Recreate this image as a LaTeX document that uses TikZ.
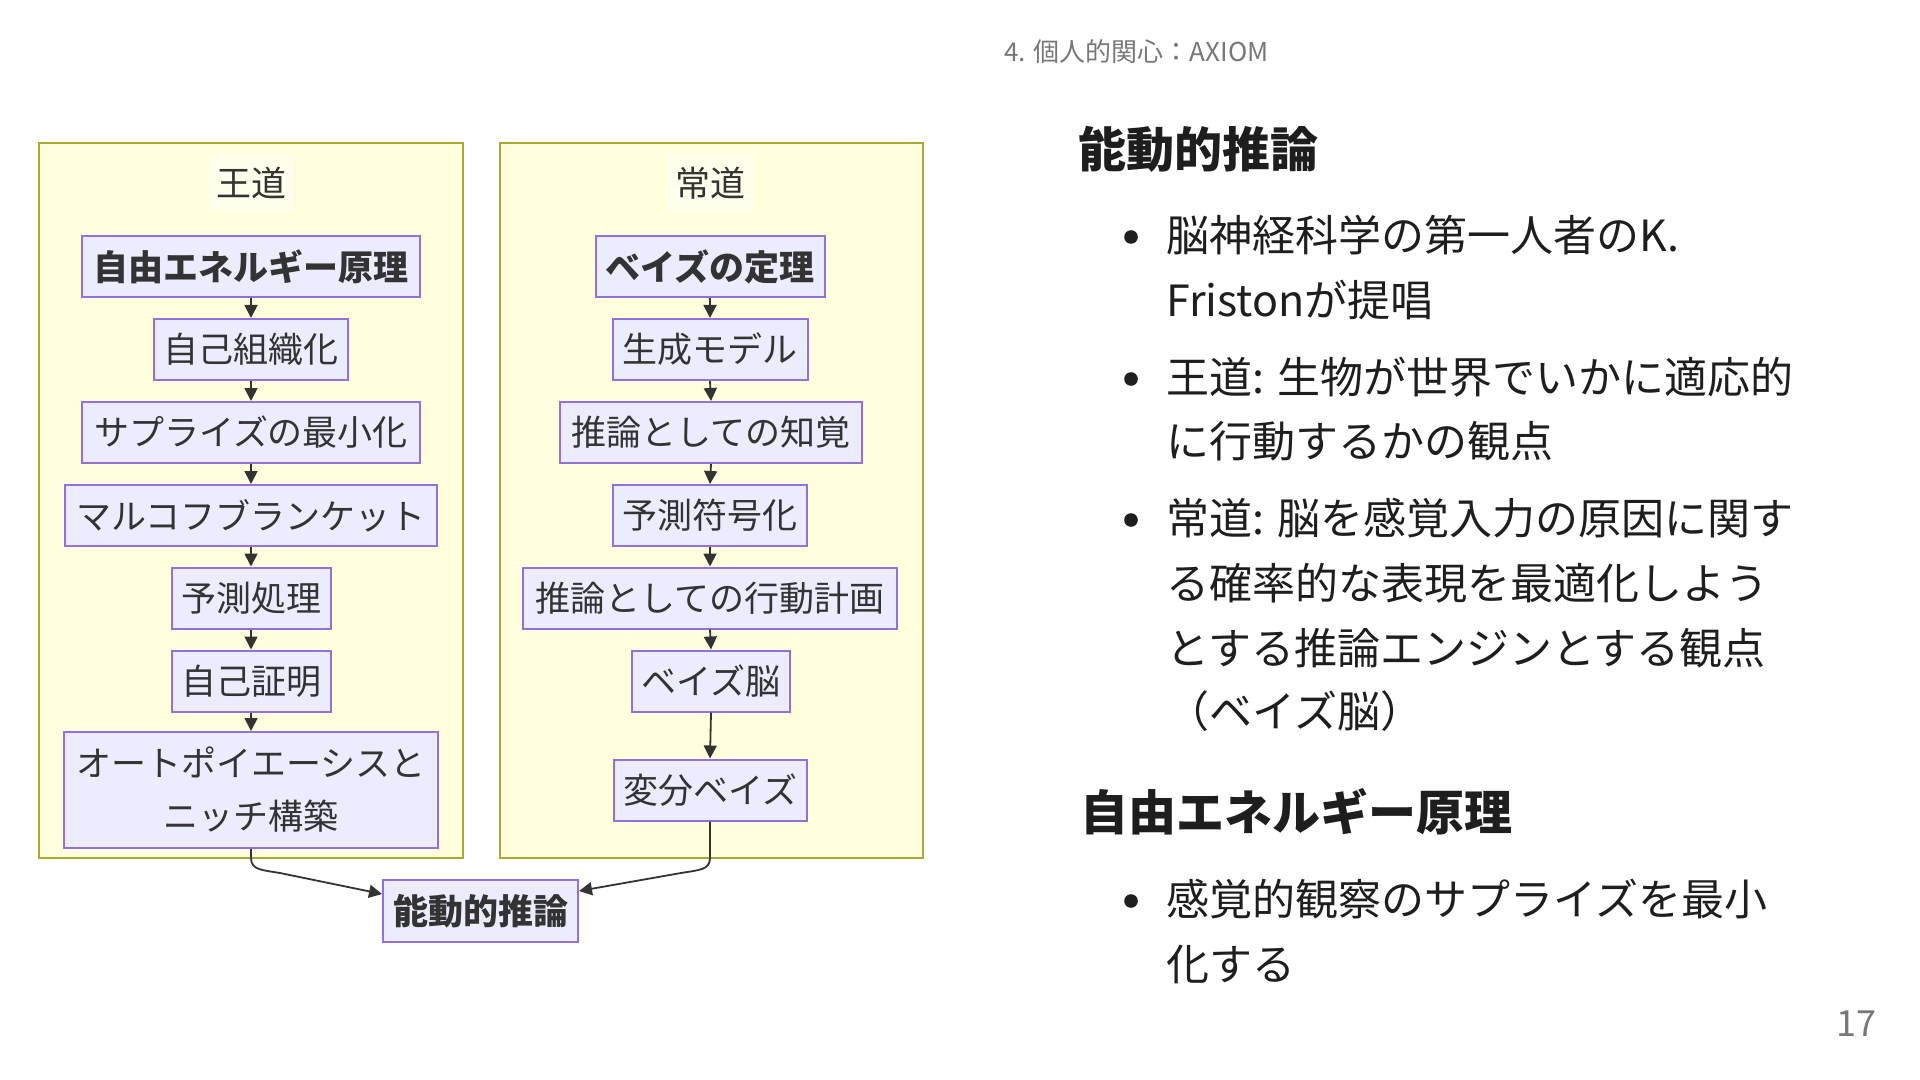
\documentclass[tikz,border=0pt]{standalone}
\usepackage{fontspec}
\setmainfont{Noto Sans CJK JP}
\usetikzlibrary{arrows.meta,calc}
\definecolor{clfill}{HTML}{FFFFDE}
\definecolor{clline}{HTML}{AAAA33}
\definecolor{ndfill}{HTML}{ECECFF}
\definecolor{ndline}{HTML}{9370DB}
\definecolor{ink}{HTML}{333333}
\definecolor{bodyink}{HTML}{1E1E1E}
\definecolor{muted}{HTML}{777777}
\begin{document}
\begin{tikzpicture}[x=0.5pt,y=-0.5pt,
  cluster/.style={draw=clline, fill=clfill, line width=1pt},
  clabel/.style={fill=white, fill opacity=0.45, text opacity=1, text=ink, inner sep=0pt,
    minimum width=42.5pt, minimum height=28.5pt, font=\fontsize{17.5}{21}\selectfont},
  box/.style={draw=ndline, fill=ndfill, line width=1pt, inner sep=0pt, minimum height=30.5pt,
    text=ink, align=center, font=\fontsize{17.5}{26.5}\selectfont},
  bbox/.style={box, font=\fontsize{17.5}{26.5}\selectfont\bfseries},
  arr/.style={draw=ink, line width=0.9pt, -{Triangle[length=6.5pt,width=6.5pt]}},
  bodytext/.style={anchor=west, inner sep=0pt, text=bodyink, font=\fontsize{21.5}{26}\selectfont},
  headtext/.style={anchor=west, inner sep=0pt, text=bodyink, font=\fontsize{24}{28}\selectfont\bfseries},
  bullet/.style={circle, fill=bodyink, inner sep=0pt, minimum size=6.8pt}
]
\useasboundingbox (0,0) rectangle (1920,1080);
\fill[white] (0,0) rectangle (1920,1080);

% clusters
\draw[cluster] (39,143) rectangle (463,858);
\draw[cluster] (500,143) rectangle (923,858);
\node[clabel] (labL) at (251,183) {王道};
\node[clabel] (labR) at (710,183) {常道};

% left column
\node[bbox, minimum width=169pt] (L1) at (251,266.5) {自由エネルギー原理};
\node[box, minimum width=97pt] (L2) at (251,349.5) {自己組織化};
\node[box, minimum width=169pt] (L3) at (251,432.5) {サプライズの最小化};
\node[box, minimum width=186pt] (L4) at (251,515.5) {マルコフブランケット};
\node[box, minimum width=79.5pt] (L5) at (251,598) {予測処理};
\node[box, minimum width=79.5pt] (L6) at (251,681) {自己証明};
\node[box, minimum width=187pt, minimum height=58pt] (L7) at (251,790) {オートポイエーシスと\\ニッチ構築};

% right column
\node[bbox, minimum width=114.5pt] (R1) at (710,266.5) {ベイズの定理};
\node[box, minimum width=97.5pt] (R2) at (710,349.5) {生成モデル};
\node[box, minimum width=151pt] (R3) at (711,432.5) {推論としての知覚};
\node[box, minimum width=97pt] (R4) at (710,515.5) {予測符号化};
\node[box, minimum width=187pt] (R5) at (710,598) {推論としての行動計画};
\node[box, minimum width=79pt] (R6) at (711,681) {ベイズ脳};
\node[box, minimum width=96.5pt] (R7) at (710,790) {変分ベイズ};

% bottom node
\node[bbox, minimum width=97.5pt, minimum height=31pt] (B) at (480.5,911) {能動的推論};

% vertical arrows
\draw[arr] (L1.south) -- (L2.north);
\draw[arr] (L2.south) -- (L3.north);
\draw[arr] (L3.south) -- (L4.north);
\draw[arr] (L4.south) -- (L5.north);
\draw[arr] (L5.south) -- (L6.north);
\draw[arr] (L6.south) -- (L7.north);
\draw[arr] (R1.south) -- (R2.north);
\draw[arr] (R2.south) -- (R3.north);
\draw[arr] (R3.south) -- (R4.north);
\draw[arr] (R4.south) -- (R5.north);
\draw[arr] (R5.south) -- (R6.north);
\draw[arr] (R6.south) -- (R7.north);

% merging arrows
\coordinate (tipL) at ($(B.west)+(0,-17)$);
\coordinate (tipR) at ($(B.east)+(0,-20)$);
\draw[arr] (L7.south) -- (251,858) .. controls (251,870) and (262,870) .. (280,873) -- (tipL);
\draw[arr] (R7.south) -- (710,858) .. controls (710,870) and (699,870) .. (681,873) -- (tipR);

% header and page number
\node[anchor=west, inner sep=0pt, text=muted, font=\fontsize{13}{16}\selectfont] (hdr) at (1004,52) {4. 個人的関心：AXIOM};
\node[inner sep=0pt, text=muted, font=\fontsize{18}{22}\selectfont] (pg) at (1856,1024) {17};

% right text
\node[headtext] (h1) at (1078,149) {能動的推論};
\node[bullet] (b1) at (1131,237) {};
\node[bodytext] (t1) at (1166,235) {脳神経科学の第一人者のK.};
\node[bodytext] (t2) at (1166,300) {Fristonが提唱};
\node[bullet] (b2) at (1131,379) {};
\node[bodytext] (t3) at (1166,377) {王道: 生物が世界でいかに適応的};
\node[bodytext] (t4) at (1166,441) {に行動するかの観点};
\node[bullet] (b3) at (1131,520) {};
\node[bodytext] (t5) at (1166,518) {常道: 脳を感覚入力の原因に関す};
\node[bodytext] (t6) at (1166,583) {る確率的な表現を最適化しよう};
\node[bodytext] (t7) at (1166,648) {とする推論エンジンとする観点};
\node[bodytext] (t8) at (1166,711) {（ベイズ脳）};
\node[headtext] (h2) at (1080,812) {自由エネルギー原理};
\node[bullet] (b4) at (1131,901) {};
\node[bodytext] (t9) at (1166,899) {感覚的観察のサプライズを最小};
\node[bodytext] (t10) at (1166,964) {化する};
\end{tikzpicture}
\end{document}
